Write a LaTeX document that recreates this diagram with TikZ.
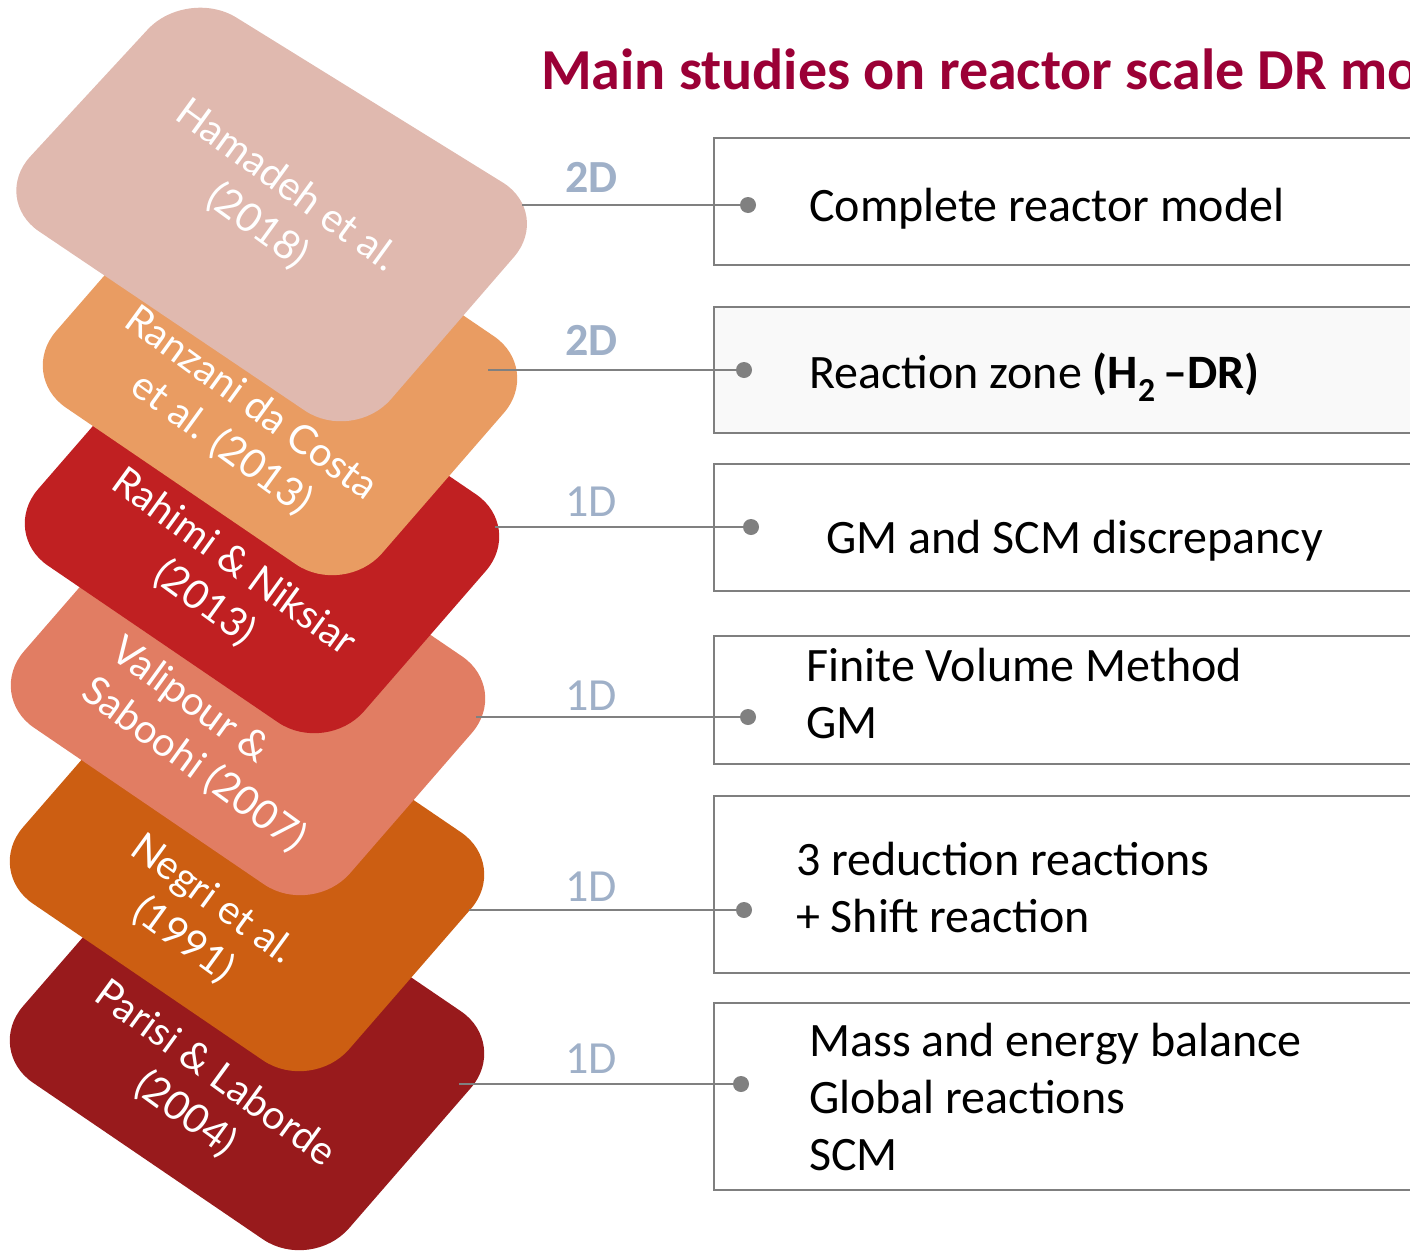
\documentclass[tikz,border=0pt]{standalone}
\usepackage{fontspec}
\setmainfont{Carlito}
\newfontfamily\cardfont{Lato}
\definecolor{cA}{HTML}{E0B9AF}
\definecolor{cB}{HTML}{E99C62}
\definecolor{cC}{HTML}{C02022}
\definecolor{cD}{HTML}{E17D63}
\definecolor{cE}{HTML}{CC5E12}
\definecolor{cF}{HTML}{981A1C}
\definecolor{titlecol}{HTML}{9B0036}
\definecolor{dimblue}{HTML}{9FB0C8}
\definecolor{linegray}{HTML}{808080}
\definecolor{boxgray}{HTML}{7F7F7F}
\definecolor{lightfill}{HTML}{F9F9F9}
\begin{document}
\begin{tikzpicture}[x=1pt,y=-1pt,
  cardshape/.style={rounded corners=58pt},
  cardtext/.style={font=\cardfont\fontsize{40}{50}\selectfont, text=white, align=center, rotate=-36, inner sep=0pt},
  boxstyle/.style={draw=boxgray, line width=1.4pt},
  conn/.style={draw=linegray, line width=2.6pt},
  dotnode/.style={circle, fill=linegray, inner sep=0pt, minimum size=16pt},
  dimlab/.style={font=\fontsize{46}{46}\selectfont, text=dimblue, anchor=base west, inner sep=0pt},
  boxtext/.style={font=\fontsize{48}{57}\selectfont, anchor=base west, inner sep=0pt}]
\useasboundingbox (0,0) rectangle (1410,1250);
\clip (0,0) rectangle (1410,1250);
% title
\node[font=\fontsize{58}{58}\selectfont\bfseries, text=titlecol, anchor=base west, inner sep=0pt] (title) at (541,89) {Main studies on reactor scale DR mo};
% cards (bottom first)
\fill[cardshape, cF] (183,822) -- (509,1044) -- (311,1272) -- (-15,1050) -- cycle;
\fill[cardshape, cE] (183,643) -- (509,865) -- (311,1093) -- (-15,871) -- cycle;
\fill[cardshape, cD] (184,467) -- (510,689) -- (312,917) -- (-14,695) -- cycle;
\fill[cardshape, cC] (198,305) -- (524,527) -- (326,755) -- (0,533) -- cycle;
\fill[cardshape, cB] (216,147) -- (542,369) -- (344,597) -- (18,375) -- cycle;
\fill[cardshape, cA] (187,-13) -- (552,213) -- (353,443) -- (-9,199) -- cycle;
% card texts
\node[cardtext] (k1) at (272,206) {Hamadeh et al.\\(2018)};
\node[cardtext] (k2) at (236,424) {Ranzani da Costa\\et al. (2013)};
\node[cardtext] (k3) at (219,583) {Rahimi \& Niksiar\\(2013)};
\node[cardtext, align=left] (k4) at (208,745) {Valipour \&\\Saboohi (2007)};
\node[cardtext] (k5) at (198,920) {Negri et al.\\(1991)};
\node[cardtext] (k6) at (200,1094) {Parisi \& Laborde\\(2004)};
% boxes
\draw[boxstyle, fill=white] (714,138) rectangle (1440,265);
\draw[boxstyle, fill=lightfill] (714,307) rectangle (1440,433);
\draw[boxstyle, fill=white] (714,464) rectangle (1440,591);
\draw[boxstyle, fill=white] (714,636) rectangle (1440,764);
\draw[boxstyle, fill=white] (714,796) rectangle (1440,973);
\draw[boxstyle, fill=white] (714,1003) rectangle (1440,1190);
% connector ends
\coordinate (s1) at (522,205);
\coordinate (s2) at (488,370);
\coordinate (s3) at (495,527);
\coordinate (s4) at (476,717);
\coordinate (s5) at (469,910);
\coordinate (s6) at (459,1084);
\node[dotnode] (d1) at (748,205) {};
\node[dotnode] (d2) at (744,370) {};
\node[dotnode] (d3) at (751,527) {};
\node[dotnode] (d4) at (748,717) {};
\node[dotnode] (d5) at (744,910) {};
\node[dotnode] (d6) at (741,1084) {};
\draw[conn] (s1) -- (d1.center);
\draw[conn] (s2) -- (d2.center);
\draw[conn] (s3) -- (d3.center);
\draw[conn] (s4) -- (d4.center);
\draw[conn] (s5) -- (d5.center);
\draw[conn] (s6) -- (d6.center);
% dimension labels
\node[dimlab, font=\fontsize{46}{46}\selectfont\bfseries] (l1) at (565,192) {2D};
\node[dimlab, font=\fontsize{46}{46}\selectfont\bfseries] (l2) at (565,355) {2D};
\node[dimlab] (l3) at (565,516) {1D};
\node[dimlab] (l4) at (565,710) {1D};
\node[dimlab] (l5) at (565,901) {1D};
\node[dimlab] (l6) at (565,1073) {1D};
% box texts
\node[boxtext] (t1) at (809,221) {Complete reactor model};
\node[boxtext] (t2) at (809,388) {Reaction zone \textbf{(H\textsubscript{2}\,–DR)}};
\node[boxtext] (t3) at (826,553) {GM and SCM discrepancy};
\node[boxtext] (t4a) at (806,681) {Finite Volume Method};
\node[boxtext] (t4b) at (806,738) {GM};
\node[boxtext] (t5a) at (796,875) {3 reduction reactions};
\node[boxtext] (t5b) at (796,932) {+ Shift reaction};
\node[boxtext] (t6a) at (809,1056) {Mass and energy balance};
\node[boxtext] (t6b) at (809,1113) {Global reactions};
\node[boxtext] (t6c) at (809,1170) {SCM};
\end{tikzpicture}
\end{document}
